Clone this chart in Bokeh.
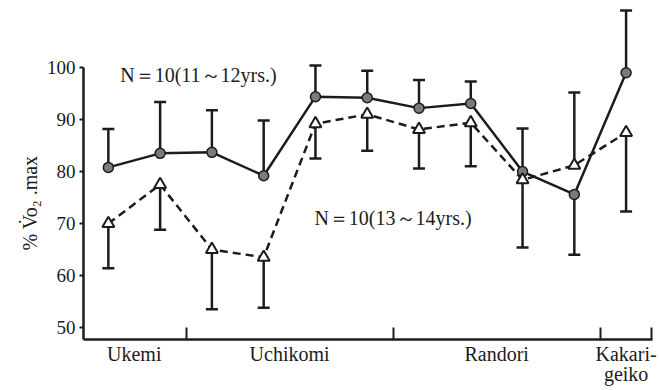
from bokeh.plotting import figure
from bokeh.models import ColumnDataSource, FixedTicker, Label, Range1d, Title
from bokeh.embed import file_html
from bokeh.resources import INLINE

# ---- data ----
phases = ["Ukemi", "Uchikomi", "Randori", "Kakari-\ngeiko"]
phase_counts = [2, 4, 4, 1]
idx = list(range(11))
young_mean = [80.8, 83.5, 83.7, 79.2, 94.4, 94.2, 92.2, 93.1, 80.0, 75.6, 99.0]
young_err = [88.2, 93.4, 91.8, 89.8, 100.4, 99.4, 97.6, 97.3, 88.3, 64.0, 111.0]
old_mean = [70.0, 77.5, 65.0, 63.5, 89.2, 91.0, 88.1, 89.4, 78.4, 81.2, 87.5]
old_err = [61.4, 68.8, 53.5, 53.8, 82.5, 84.0, 80.6, 81.0, 65.4, 95.2, 72.3]
y_ticks = [50, 60, 70, 80, 90, 100]
young_label = "N＝10(11～12yrs.)"
old_label = "N＝10(13～14yrs.)"
y_title = "% V\u0307o\u2082 .max"

FONT = "Liberation Serif"
INK = "#1c1c1c"

p = figure(width=660, height=390, output_backend="svg", toolbar_location=None,
           x_range=Range1d(-0.48, 10.51), y_range=Range1d(47.7, 112.9),
           min_border_left=83, min_border_right=8, min_border_top=0, min_border_bottom=51)
p.outline_line_color = None
p.xgrid.grid_line_color = None
p.ygrid.grid_line_color = None
p.background_fill_color = "white"
p.border_fill_color = "white"

# category boundaries and centres from counts
bounds = []
centers = []
start = -0.5
for c in phase_counts:
    centers.append(start + c / 2)
    start += c
    bounds.append(start)

# y axis
p.yaxis.ticker = FixedTicker(ticks=y_ticks)
p.yaxis.bounds = (47.7, 100)
p.yaxis.axis_line_width = 2.5
p.yaxis.axis_line_color = INK
p.yaxis.major_tick_out = 4
p.yaxis.major_tick_in = 0
p.yaxis.major_tick_line_width = 2
p.yaxis.major_tick_line_color = INK
p.yaxis.minor_tick_line_color = None
p.yaxis.major_label_standoff = 4
p.yaxis.major_label_text_font = FONT
p.yaxis.major_label_text_font_size = "19px"
p.yaxis.major_label_text_color = INK

# x axis: labels at phase centres, minor ticks at phase boundaries
p.xaxis.ticker = FixedTicker(ticks=centers, minor_ticks=bounds)
p.xaxis.major_label_overrides = {c: n for c, n in zip(centers, phases)}
p.xaxis.axis_line_width = 2.5
p.xaxis.axis_line_color = INK
p.xaxis.major_tick_line_color = None
p.xaxis.major_tick_out = 0
p.xaxis.major_tick_in = 0
p.xaxis.minor_tick_in = 12
p.xaxis.minor_tick_out = 0
p.xaxis.minor_tick_line_width = 2
p.xaxis.minor_tick_line_color = INK
p.xaxis.major_label_standoff = 3
p.xaxis.major_label_text_font = FONT
p.xaxis.major_label_text_font_size = "20px"
p.xaxis.major_label_text_line_height = 0.95
p.xaxis.major_label_text_color = INK

# y title as a left-side title
p.add_layout(Title(text=y_title, align="left", offset=89, standoff=5, text_font=FONT,
                   text_font_size="20px", text_font_style="normal", text_color=INK), "left")

# error bars
for mean, err in ((young_mean, young_err), (old_mean, old_err)):
    src = ColumnDataSource(dict(x=idx, y0=mean, y1=err))
    p.segment(x0="x", y0="y0", x1="x", y1="y1", source=src, line_width=2.5, line_color=INK)
    p.scatter(x="x", y="y1", source=src, marker="dash", size=12, line_width=2.5, line_color=INK)

# lines
p.line(idx, young_mean, line_width=2.5, line_color=INK)
p.line(idx, old_mean, line_width=2.5, line_color=INK, line_dash="8 5")

# markers
p.scatter(idx, young_mean, marker="circle", size=10, fill_color="#7a7a7a",
          line_color=INK, line_width=1.5)
p.scatter(idx, old_mean, marker="triangle", size=12, fill_color="white",
          line_color=INK, line_width=2)

# texts
p.add_layout(Label(x=0.23, y=98.6, text=young_label, text_font=FONT, text_font_size="20px",
                   text_color=INK, text_baseline="middle", text_align="left"))
p.add_layout(Label(x=3.98, y=71.0, text=old_label, text_font=FONT, text_font_size="20px",
                   text_color=INK, text_baseline="middle", text_align="left"))

open("out.html", "w").write(file_html(p, INLINE))
